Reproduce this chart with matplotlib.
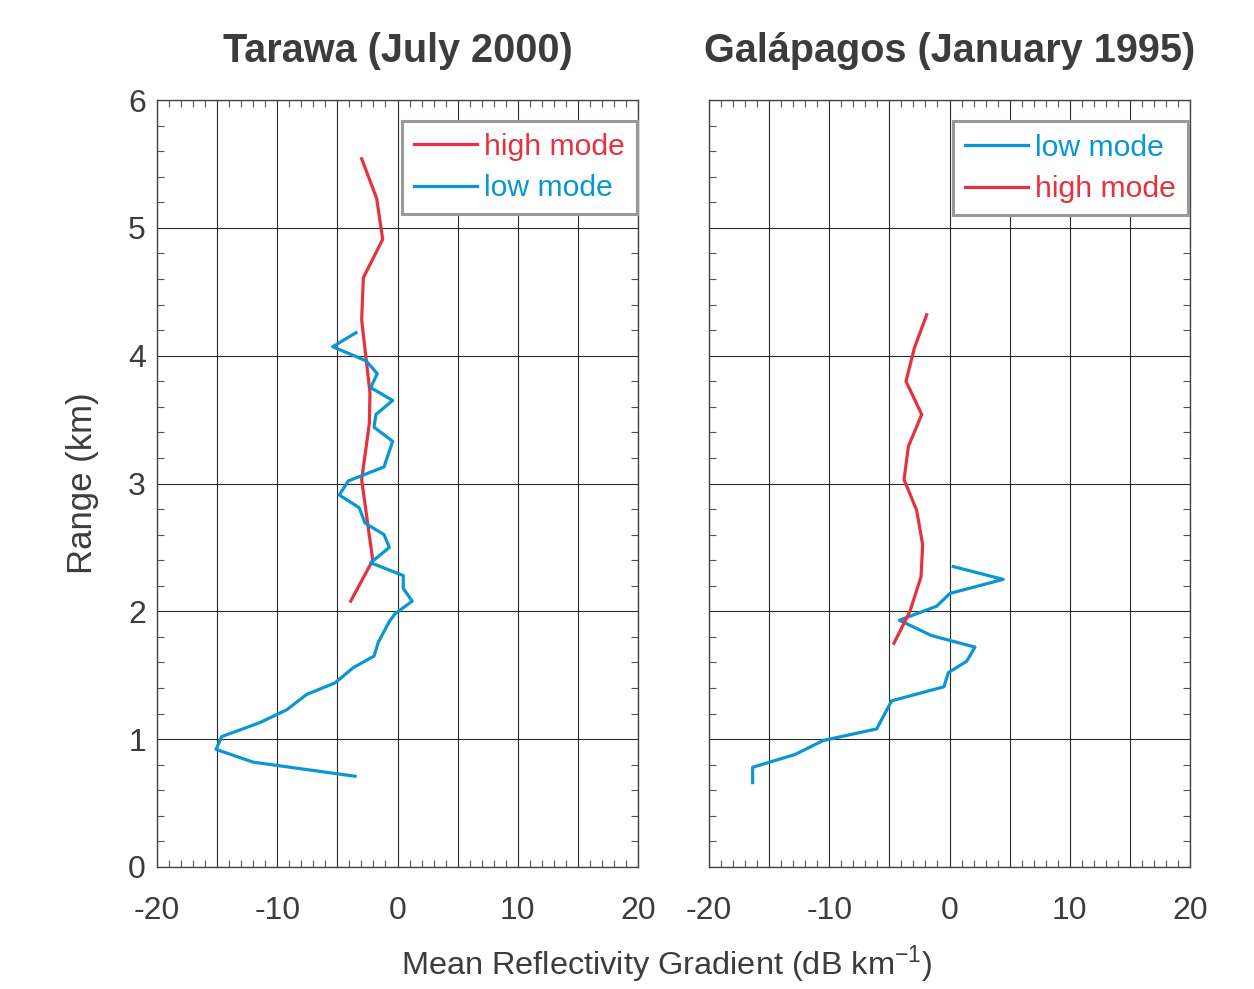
import matplotlib
matplotlib.use("Agg")
import matplotlib.pyplot as plt
from matplotlib.ticker import MultipleLocator, FuncFormatter

plt.rcParams['font.family'] = ['Liberation Sans', 'DejaVu Sans']

RED = '#e5323e'
BLUE = '#0a96d4'
TXT = '#3c3c3c'

# Tarawa (July 2000)
tar_high_x = [-2.98, -1.73, -1.23, -2.84, -2.98, -2.29, -2.34, -2.98, -2.06, -3.89]
tar_high_y = [5.54, 5.23, 4.91, 4.61, 4.28, 3.71, 3.47, 3.03, 2.40, 2.08]
tar_low_x = [-3.45, -5.39, -2.62, -1.68, -2.23, -0.40, -1.79, -1.95, -0.40, -1.12,
             -4.09, -4.84, -3.18, -2.70, -1.12, -0.68, -2.23, 0.48, 0.48, 1.22,
             -0.21, -0.68, -1.59, -1.95, -3.67, -5.20, -7.55, -9.21, -11.43, -14.62,
             -15.09, -11.99, -3.53]
tar_low_y = [4.18, 4.07, 3.96, 3.86, 3.75, 3.65, 3.54, 3.44, 3.33, 3.13,
             3.02, 2.91, 2.81, 2.69, 2.60, 2.50, 2.38, 2.28, 2.18, 2.08,
             1.98, 1.92, 1.76, 1.65, 1.56, 1.44, 1.35, 1.23, 1.13, 1.02,
             0.92, 0.82, 0.71]

# Galapagos (January 1995)
gal_high_x = [-1.90, -2.92, -3.62, -2.31, -3.42, -3.78, -2.73, -2.23, -2.37, -3.29, -4.62]
gal_high_y = [4.32, 4.06, 3.80, 3.54, 3.29, 3.03, 2.79, 2.52, 2.27, 2.00, 1.75]
gal_low_x = [0.32, 4.47, 0.04, -1.07, -4.17, -1.48, 2.12, 1.43, -0.10, -0.46,
             -4.81, -6.06, -10.49, -12.85, -16.37, -16.37]
gal_low_y = [2.35, 2.25, 2.14, 2.04, 1.93, 1.81, 1.72, 1.61, 1.52, 1.41,
             1.30, 1.08, 0.99, 0.88, 0.78, 0.66]

titles = ['Tarawa (July 2000)', 'Galápagos (January 1995)']
x_label = 'Mean Reflectivity Gradient (dB km$^{\\mathregular{-1}}$)'
y_label = 'Range (km)'

fig = plt.figure(figsize=(12.54, 9.89), dpi=100)
W, H = 1254, 989
axL = fig.add_axes([157 / W, 1 - 867 / H, 481 / W, 767 / H])
axR = fig.add_axes([709 / W, 1 - 867 / H, 481 / W, 767 / H])

def style(ax, show_y):
    ax.set_xlim(-20, 20)
    ax.set_ylim(0, 6)
    ax.xaxis.set_major_locator(MultipleLocator(5))
    ax.xaxis.set_minor_locator(MultipleLocator(1))
    ax.yaxis.set_major_locator(MultipleLocator(1))
    ax.yaxis.set_minor_locator(MultipleLocator(0.2))
    ax.xaxis.set_major_formatter(FuncFormatter(lambda v, p: f'{int(round(v))}' if abs(v) % 10 < 1e-6 else ''))
    ax.grid(True, which='major', color='#2a2a2a', linewidth=0.8)
    ax.tick_params(which='both', direction='in', top=True, right=True, colors='#555555',
                   labelcolor=TXT, labelsize=23)
    ax.tick_params(which='major', length=0)
    ax.tick_params(which='minor', length=5, width=0.8)
    ax.tick_params(axis='x', which='major', pad=21)
    ax.tick_params(axis='y', which='major', pad=8)
    if not show_y:
        ax.tick_params(axis='y', labelleft=False)
    for s in ax.spines.values():
        s.set_color('#444444')
        s.set_linewidth(1.0)

style(axL, True)
style(axR, False)

axL.plot(tar_high_x, tar_high_y, color=RED, lw=2.3, label='high mode')
axL.plot(tar_low_x, tar_low_y, color=BLUE, lw=2.3, label='low mode')
axR.plot(gal_low_x, gal_low_y, color=BLUE, lw=2.3, label='low mode')
axR.plot(gal_high_x, gal_high_y, color=RED, lw=2.3, label='high mode')

for ax, anchor, title in [(axL, (0.998, 0.973), titles[0]), (axR, (0.996, 0.972), titles[1])]:
    leg = ax.legend(loc='upper right', bbox_to_anchor=anchor, borderaxespad=0,
                    fontsize=21.7, frameon=True, fancybox=False, framealpha=1,
                    handlelength=2.1, handletextpad=0.23, borderpad=0.4,
                    labelspacing=0.45)
    leg.get_frame().set_edgecolor('#999999')
    leg.get_frame().set_linewidth(2.2)
    for t, l in zip(leg.get_texts(), leg.get_lines()):
        t.set_color(l.get_color())
    ax.set_title(title, fontsize=28.5, fontweight='bold', color=TXT, pad=27)

axL.set_ylabel(y_label, fontsize=25, color=TXT, labelpad=21)
fig.text(666 / W, 1 - 965 / H, x_label, fontsize=23.4, color=TXT, ha='center', va='center')

fig.savefig('out.png', dpi=100)
